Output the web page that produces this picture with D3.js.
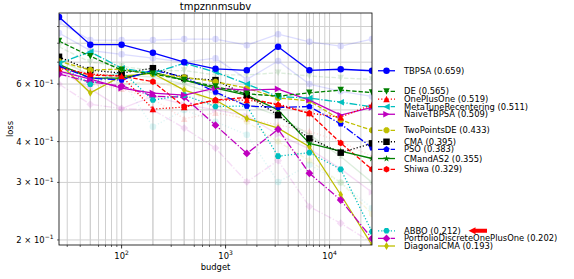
<!DOCTYPE html>
<html>
<head>
<meta charset="utf-8">
<script src="https://d3js.org/d3.v7.min.js"></script>
<style>
body { margin: 0; background: #fff; }
text { font-family: "DejaVu Sans", sans-serif; }
</style>
</head>
<body>
<div id="chart"></div>
<script>
var svgWidth = 574;
var svgHeight = 279;

// chart margins (plot box is 59..372 x 13..245)
var margin = {top: 13, right: 202, bottom: 34, left: 59};
var width = svgWidth - margin.left - margin.right;
var height = svgHeight - margin.top - margin.bottom;

// budgets on the x axis
var budgets = [25, 50, 100, 200, 400, 800, 1600, 3200, 6400, 12800, 25600];

// main algorithms, in legend order
var algoNames = ["TBPSA", "DE", "OnePlusOne", "MetaTuneRecentering", "NaiveTBPSA",
    "TwoPointsDE", "CMA", "PSO", "CMandAS2", "Shiwa", "ABBO",
    "PortfolioDiscreteOnePlusOne", "DiagonalCMA"];
var algoScores = [0.659, 0.565, 0.519, 0.511, 0.509, 0.433, 0.395, 0.383, 0.355, 0.329, 0.212, 0.202, 0.193];

var tbpsa = [0.962, 0.792, 0.792, 0.748, 0.700, 0.668, 0.661, 0.780, 0.661, 0.666, 0.659];
var de = [0.812, 0.730, 0.662, 0.645, 0.617, 0.590, 0.560, 0.551, 0.564, 0.575, 0.565];
var onePlusOne = [0.671, 0.644, 0.635, 0.503, 0.510, 0.536, 0.536, 0.521, 0.489, 0.475, 0.519];
var metaTune = [0.695, 0.753, 0.671, 0.648, 0.695, 0.653, 0.600, 0.549, 0.544, 0.528, 0.511];
var naiveTbpsa = [0.657, 0.621, 0.583, 0.563, 0.555, 0.583, 0.575, 0.579, 0.536, 0.482, 0.509];
var twoPointsDe = [0.705, 0.662, 0.667, 0.644, 0.630, 0.610, 0.583, 0.544, 0.533, 0.466, 0.433];
var cma = [0.727, 0.662, 0.648, 0.671, 0.626, 0.617, 0.555, 0.482, 0.409, 0.370, 0.395];
var pso = [0.681, 0.626, 0.617, 0.662, 0.631, 0.567, 0.514, 0.509, 0.512, 0.453, 0.383];
var cmandas2 = [0.690, 0.626, 0.626, 0.653, 0.617, 0.583, 0.555, 0.500, 0.395, 0.374, 0.355];
var shiwa = [0.678, 0.639, 0.635, 0.610, 0.512, 0.536, 0.546, 0.517, 0.488, 0.396, 0.329];
var abbo = [0.686, 0.599, 0.657, 0.536, 0.555, 0.512, 0.514, 0.361, 0.370, 0.329, 0.212];
var portfolio = [0.644, 0.609, 0.592, 0.551, 0.547, 0.449, 0.368, 0.436, 0.320, 0.265, 0.202];
var diagonalCma = [0.695, 0.564, 0.635, 0.647, 0.575, 0.536, 0.471, 0.440, 0.386, 0.275, 0.193];

var algoValues = [tbpsa, de, onePlusOne, metaTune, naiveTbpsa, twoPointsDe, cma, pso,
    cmandas2, shiwa, abbo, portfolio, diagonalCma];

// the other (faded) algorithms in the background
var faintBlueA = [0.928, 0.818, 0.818, 0.818, 0.824, 0.824, 0.789, 0.853, 0.808, 0.784, 0.824];
var faintBlueB = [0.860, 0.760, 0.740, 0.720, 0.700, 0.720, 0.620, 0.706, 0.600, 0.570, 0.550];
var faintGreenA = [0.780, 0.700, 0.680, 0.660, 0.660, 0.640, 0.640, 0.650, 0.635, 0.626, 0.620];
var faintPink = [0.600, 0.520, 0.505, 0.500, 0.440, 0.382, 0.301, 0.350, 0.253, 0.225, 0.196];
var faintCyan = [0.690, 0.600, 0.620, 0.444, 0.500, 0.460, 0.420, 0.301, 0.340, 0.300, 0.250];
var faintRed = [0.670, 0.600, 0.580, 0.540, 0.470, 0.490, 0.470, 0.450, 0.430, 0.400, 0.360];
var faintGreenB = [0.710, 0.640, 0.640, 0.630, 0.600, 0.560, 0.520, 0.480, 0.420, 0.360, 0.300];
var faintYellow = [0.720, 0.660, 0.600, 0.610, 0.580, 0.520, 0.460, 0.400, 0.350, 0.300, 0.240];
var faintMagenta = [0.660, 0.580, 0.505, 0.550, 0.520, 0.500, 0.480, 0.420, 0.380, 0.330, 0.280];

var faintValues = [faintBlueA, faintBlueB, faintGreenA, faintPink, faintCyan, faintRed,
    faintGreenB, faintYellow, faintMagenta];

// tick labels
var xTickValues = [100, 1000, 10000];
var xTickExponents = ["2", "3", "4"];
var yTickValues = [0.2, 0.3, 0.4, 0.6];
var yTickMantissas = ["2", "3", "4", "6"];

// matplotlib-like style cycles
var colorCycle = ["#0000ff", "#008000", "#ff0000", "#00bfbf", "#bf00bf", "#bfbf00", "#000000"];
var dashCycle = [null, "4.4,1.9", "1.2,2", "7.7,1.9,1.2,1.9"];
var markerCycle = ["o", "v", "^", "<", ">", "8", "s", "p", "*", "h", "H", "D", "d"];
var faintStyles = [
    {color: "#0000ff", dash: null, marker: "o"},
    {color: "#0000ff", dash: null, marker: "o"},
    {color: "#008000", dash: "4.4,1.9", marker: "v"},
    {color: "#bf00bf", dash: "7.7,1.9,1.2,1.9", marker: "D"},
    {color: "#00bfbf", dash: "1.2,2", marker: "o"},
    {color: "#ff0000", dash: "1.2,2", marker: "^"},
    {color: "#008000", dash: null, marker: "*"},
    {color: "#bfbf00", dash: "4.4,1.9", marker: "8"},
    {color: "#bf00bf", dash: null, marker: ">"}
];

function polyPath(pts) {
    return "M" + pts.map(p => p[0].toFixed(2) + "," + p[1].toFixed(2)).join("L") + "Z";
}
function regular(n, r, rotDeg) {
    var pts = [];
    for (var k = 0; k < n; k++) {
        var a = (rotDeg + k * 360 / n) * Math.PI / 180;
        pts.push([r * Math.sin(a), -r * Math.cos(a)]);
    }
    return pts;
}
// marker shapes, s = marker size in px
function markerPath(m, s) {
    var r = s / 2;
    switch (m) {
        case "o": return "M" + r + ",0A" + r + "," + r + " 0 1,1 " + (-r) + ",0A" + r + "," + r + " 0 1,1 " + r + ",0Z";
        case "v": return polyPath([[0, r], [-r, -r], [r, -r]]);
        case "^": return polyPath([[0, -r], [-r, r], [r, r]]);
        case "<": return polyPath([[-r, 0], [r, -r], [r, r]]);
        case ">": return polyPath([[r, 0], [-r, -r], [-r, r]]);
        case "8": return polyPath(regular(8, r, 22.5));
        case "s": return polyPath([[-r, -r], [r, -r], [r, r], [-r, r]]);
        case "p": return polyPath(regular(5, r, 0));
        case "*":
            var star = [];
            for (var k = 0; k < 10; k++) {
                var rr = k % 2 === 0 ? r * 1.1 : r * 0.42;
                var a = k * 36 * Math.PI / 180;
                star.push([rr * Math.sin(a), -rr * Math.cos(a)]);
            }
            return polyPath(star);
        case "h": return polyPath(regular(6, r, 0));
        case "H": return polyPath(regular(6, r, 30));
        case "D": return polyPath([[0, -r * 1.2], [r * 1.2, 0], [0, r * 1.2], [-r * 1.2, 0]]);
        case "d": return polyPath([[0, -r * 1.2], [r * 0.72, 0], [0, r * 1.2], [-r * 0.72, 0]]);
    }
}

var svg = d3.select("#chart")
    .append("svg")
    .attr("width", svgWidth)
    .attr("height", svgHeight);

var chartGroup = svg.append("g")
    .attr("transform", `translate(${margin.left}, ${margin.top})`);

var xScale = d3.scaleLog().domain([25, 25600]).range([0, width]);
var yScale = d3.scaleLog().domain([0.193, 0.99]).range([height, 0]);

// grid lines
var xGrid = [];
[10, 100, 1000, 10000].forEach(function (dec) {
    for (var k = 1; k < 10; k++) {
        var v = dec * k;
        if (v > 25 && v < 25600) xGrid.push(v);
    }
});
budgets.forEach(function (b) { if (b > 25 && b < 25600) xGrid.push(b); });
var yGrid = [0.2, 0.3, 0.4, 0.5, 0.6, 0.7, 0.8, 0.9];

chartGroup.append("g").selectAll("line")
    .data(xGrid).enter().append("line")
    .attr("x1", d => xScale(d)).attr("x2", d => xScale(d))
    .attr("y1", 0).attr("y2", height)
    .attr("stroke", "#cfcfcf").attr("stroke-width", 1);

chartGroup.append("g").selectAll("line")
    .data(yGrid).enter().append("line")
    .attr("x1", 0).attr("x2", width)
    .attr("y1", d => yScale(d)).attr("y2", d => yScale(d))
    .attr("stroke", "#cfcfcf").attr("stroke-width", 1);

// clip to the axes box
svg.append("defs").append("clipPath").attr("id", "plotClip")
    .append("rect").attr("x", 0).attr("y", 0).attr("width", width).attr("height", height);

var plot = chartGroup.append("g").attr("clip-path", "url(#plotClip)");

var lineGen = d3.line()
    .x((d, i) => xScale(budgets[i]))
    .y(d => yScale(d));

var markerSize = 6.5;

function drawSeries(values, style, opacity) {
    var g = plot.append("g").attr("opacity", opacity);
    g.append("path")
        .attr("d", lineGen(values))
        .attr("fill", "none")
        .attr("stroke", style.color)
        .attr("stroke-width", 1.3)
        .attr("stroke-dasharray", style.dash);
    g.selectAll("path.mk")
        .data(values).enter().append("path")
        .attr("class", "mk")
        .attr("transform", (d, i) => `translate(${xScale(budgets[i])}, ${yScale(d)})`)
        .attr("d", markerPath(style.marker, markerSize))
        .attr("fill", style.color);
}

faintValues.forEach(function (vals, i) {
    drawSeries(vals, faintStyles[i], 0.13);
});

var algoStyles = algoNames.map(function (n, i) {
    return {color: colorCycle[i % 7], dash: dashCycle[i % 4], marker: markerCycle[i]};
});

for (var i = algoValues.length - 1; i >= 0; i--) {
    drawSeries(algoValues[i], algoStyles[i], 1);
}

// axes box
chartGroup.append("rect")
    .attr("x", 0).attr("y", 0).attr("width", width).attr("height", height)
    .attr("fill", "none").attr("stroke", "#000").attr("stroke-width", 0.8);

// x ticks
var xMinor = xGrid.filter(d => xTickValues.indexOf(d) < 0 && budgets.indexOf(d) < 0);
chartGroup.append("g").selectAll("line")
    .data(xMinor).enter().append("line")
    .attr("x1", d => xScale(d)).attr("x2", d => xScale(d))
    .attr("y1", height).attr("y2", height + 2)
    .attr("stroke", "#000").attr("stroke-width", 0.6);

var xMajor = chartGroup.append("g").selectAll("g")
    .data(xTickValues).enter().append("g")
    .attr("transform", d => `translate(${xScale(d)}, ${height})`);
xMajor.append("line").attr("y2", 3.5).attr("stroke", "#000").attr("stroke-width", 0.8);
var xLab = xMajor.append("text")
    .attr("y", 13.5)
    .attr("text-anchor", "middle")
    .attr("font-size", 8.4);
xLab.append("tspan").text("10");
xLab.append("tspan").attr("font-size", 6).attr("dy", -3.5).text((d, i) => xTickExponents[i]);

// y ticks
var yMinor = yGrid;
chartGroup.append("g").selectAll("line")
    .data(yMinor).enter().append("line")
    .attr("x1", -2).attr("x2", 0)
    .attr("y1", d => yScale(d)).attr("y2", d => yScale(d))
    .attr("stroke", "#000").attr("stroke-width", 0.6);

var yLab = chartGroup.append("g").selectAll("text")
    .data(yTickValues).enter().append("text")
    .attr("x", -5.5)
    .attr("y", d => yScale(d) + 3)
    .attr("text-anchor", "end")
    .attr("font-size", 8.4);
yLab.append("tspan").text((d, i) => yTickMantissas[i] + " \u00d7 10");
yLab.append("tspan").attr("font-size", 6).attr("dy", -3.5).text("\u22121");

// title and axis labels
svg.append("text")
    .attr("x", margin.left + width / 2).attr("y", 9.5)
    .attr("text-anchor", "middle").attr("font-size", 10)
    .text("tmpznnmsubv");

svg.append("text")
    .attr("x", margin.left + width / 2).attr("y", 269.5)
    .attr("text-anchor", "middle").attr("font-size", 8.4)
    .text("budget");

svg.append("text")
    .attr("transform", `translate(13, ${margin.top + height / 2}) rotate(-90)`)
    .attr("text-anchor", "middle").attr("font-size", 8.4)
    .text("loss");

// legend placed at the final values, pushed apart where crowded
function spreadLabels(ys, gap) {
    var order = d3.range(ys.length).sort((a, b) => ys[a] - ys[b]);
    var pos = ys.slice();
    for (var it = 0; it < 300; it++) {
        for (var k = 1; k < order.length; k++) {
            var a = order[k - 1], b = order[k];
            var d = pos[b] - pos[a];
            if (d < gap) {
                var sh = (gap - d) / 2;
                pos[a] -= sh;
                pos[b] += sh;
            }
        }
    }
    return pos;
}

var finalYs = algoValues.map(v => margin.top + yScale(v[v.length - 1]));
var legendYs = spreadLabels(finalYs, 7.6);

var legend = svg.append("g").selectAll("g")
    .data(algoNames).enter().append("g")
    .attr("transform", (d, i) => `translate(378, ${legendYs[i]})`);

legend.append("line")
    .attr("x1", 0).attr("x2", 17)
    .attr("stroke", (d, i) => algoStyles[i].color)
    .attr("stroke-width", 1.3)
    .attr("stroke-dasharray", (d, i) => algoStyles[i].dash);
legend.append("path")
    .attr("transform", "translate(8.5, 0)")
    .attr("d", (d, i) => markerPath(algoStyles[i].marker, markerSize))
    .attr("fill", (d, i) => algoStyles[i].color);
legend.append("text")
    .attr("x", 26)
    .attr("y", 3)
    .attr("font-size", 8.4)
    .text((d, i) => `${d} (${algoScores[i].toFixed(3)})`);

// red arrow pointing at ABBO
var abboY = legendYs[algoNames.indexOf("ABBO")];
svg.append("path")
    .attr("d", `M468.5,${abboY} L475.5,${abboY - 3.5} L475.5,${abboY - 2} L487,${abboY - 2} L487,${abboY + 2} L475.5,${abboY + 2} L475.5,${abboY + 3.5} Z`)
    .attr("fill", "#ff0000");
</script>
</body>
</html>
